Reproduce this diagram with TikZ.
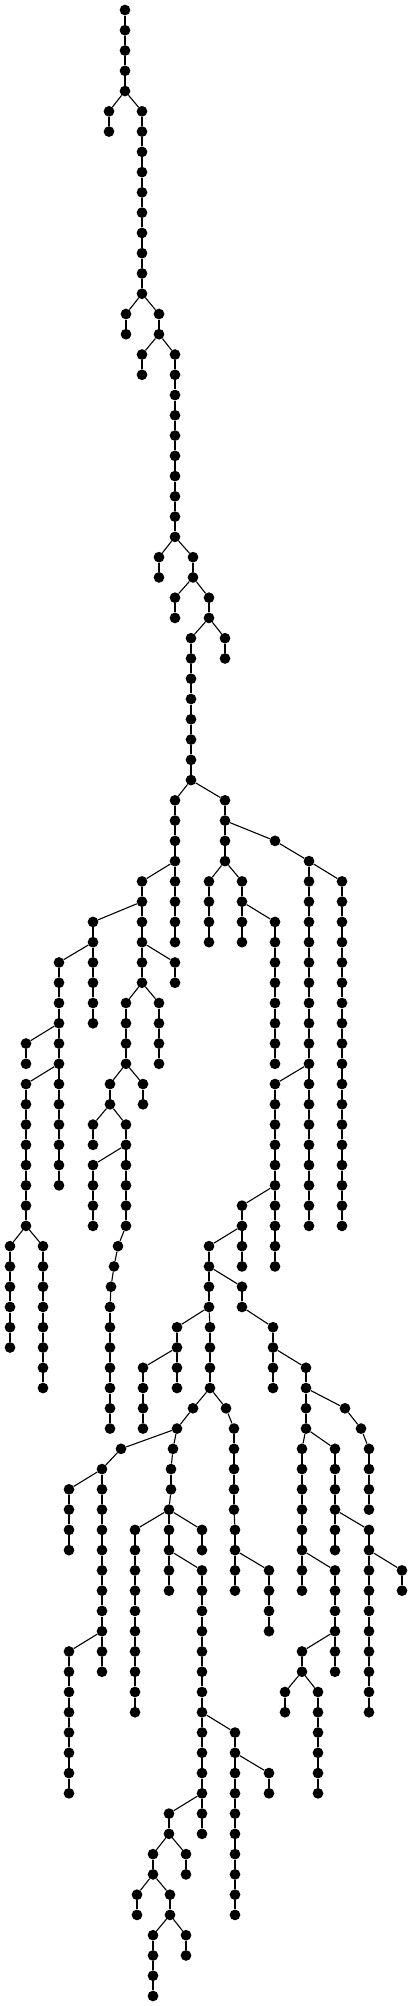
\documentclass[tikz,border=0pt]{standalone}
\usepackage{tikz}

\begin{document}
\begin{tikzpicture}[x=1pt, y=-1pt,
	dot/.style={circle, fill=black, inner sep=0pt, minimum size=10.7pt},
	edge/.style={line width=1.1pt}]
	\useasboundingbox (0,0) rectangle (412,2006);

	\foreach \x/\a/\b in {125/0/4, 109/5/6, 142/5/14, 126/15/16, 159/15/16, 142/17/18,
		175/17/26, 159/27/28, 193/27/28, 175/29/30, 209/29/30, 191/31/38, 225/31/32,
		175/39/46, 225/39/42, 142/43/48, 93/45/50, 175/47/48, 126/49/52, 159/49/52,
		59/47/58, 26/51/52, 26/53/60, 10/61/66, 43/61/68, 110/53/54, 143/53/54,
		93/55/56, 126/55/60, 93/57/60, 118/61/61, 114/62/62, 111/63/63, 110/64/70,
		209/43/46, 242/43/46, 275/45/52, 275/41/41, 309/42/60, 342/43/60, 275/53/62,
		242/59/62, 209/61/64, 242/63/64, 273/65/68, 306/67/70, 345/69/69, 361/70/70,
		369/71/74, 302/71/78, 335/71/76, 369/75/84, 402/77/78, 335/77/82, 302/81/82,
		285/83/84, 318/83/88, 177/65/68, 143/67/70, 210/65/68, 193/69/69, 177/70/70,
		121/71/71, 102/72/82, 69/73/76, 69/81/88, 173/71/71, 171/72/73, 169/74/78,
		135/75/84, 202/75/76, 202/77/90, 235/85/94, 269/87/88, 169/89/90, 186/91/92,
		153/91/92, 137/93/94, 170/93/94, 153/95/98, 186/95/96, 226/69/69, 234/70/74,
		235/75/78, 269/77/80}{
		\foreach \l in {\a,...,\b}{
			\node[dot] (v\l-\x) at (\x, {10+20.265*\l}) {};
			\ifnum\l>\a
				\pgfmathtruncatemacro{\m}{\l-1}
				\draw[edge] (v\m-\x) -- (v\l-\x);
			\fi
		}
	}

	\foreach \l/\p/\c in {4/125/109, 4/125/142, 14/142/126, 14/142/159, 16/159/142,
		16/159/175, 26/175/159, 26/175/193, 28/193/175, 28/193/209, 30/209/191,
		30/209/225, 38/191/175, 38/191/225, 42/175/142, 44/142/93, 46/142/175,
		48/142/126, 48/142/159, 46/93/59, 50/59/26, 52/59/26, 60/26/10, 60/26/43,
		52/126/110, 52/126/143, 54/110/93, 54/110/126, 56/126/93, 60/126/118,
		61/118/114, 62/114/111, 63/111/110, 42/225/209, 42/225/242, 44/242/275,
		40/225/275, 41/275/309, 42/309/342, 52/309/275, 58/275/242, 60/242/209,
		62/209/242, 64/242/273, 66/273/306, 68/306/345, 69/345/361, 70/361/369,
		70/306/302, 70/306/335, 74/335/369, 76/369/402, 76/302/335, 80/335/302,
		82/302/285, 82/302/318, 64/209/177, 66/177/143, 64/209/210, 68/210/193,
		69/193/177, 70/177/121, 71/121/102, 72/102/69, 80/102/69, 70/177/173,
		71/173/171, 73/171/169, 74/169/135, 74/169/202, 76/169/202, 84/202/235,
		86/235/269, 88/202/169, 90/169/186, 90/169/153, 92/153/137, 92/153/170,
		94/170/153, 94/170/186, 68/210/226, 69/226/234, 74/234/235, 76/235/269}{
		\pgfmathtruncatemacro{\k}{\l+1}
		\draw[edge] (v\l-\p) -- (v\k-\c);
	}
\end{tikzpicture}
\end{document}
